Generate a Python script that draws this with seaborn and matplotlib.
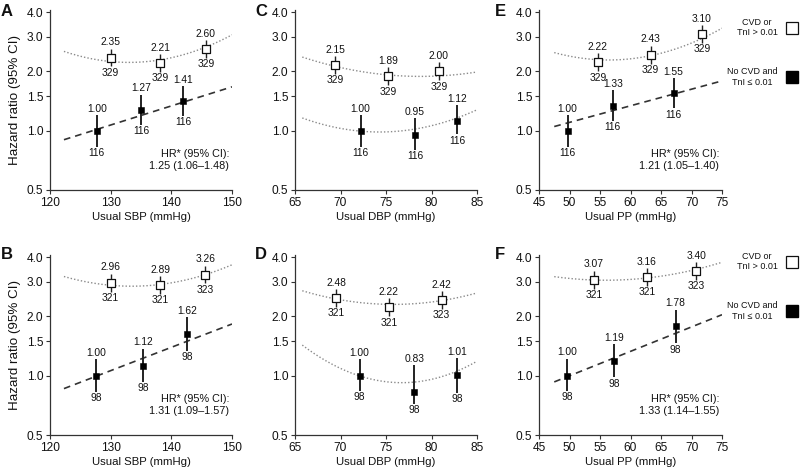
import numpy as np
import pandas as pd
import matplotlib
matplotlib.use('Agg')
import matplotlib.pyplot as plt
import seaborn as sns
from matplotlib.lines import Line2D

sns.set_theme(style='ticks')
plt.rcParams['font.family'] = ['Liberation Sans', 'DejaVu Sans']

# ---------------- data ----------------
panel_letters = ['A', 'C', 'E', 'B', 'D', 'F']
x_labels = ['Usual SBP (mmHg)', 'Usual DBP (mmHg)', 'Usual PP (mmHg)'] * 2
x_ticks = [[120, 130, 140, 150], [65, 70, 75, 80, 85], [45, 50, 55, 60, 65, 70, 75]] * 2
y_ticks = [0.5, 1.0, 1.5, 2.0, 3.0, 4.0]

# open squares: CVD or TnI > 0.01
open_x = [[130.0, 138.2, 145.7], [69.4, 75.2, 80.8], [54.65, 63.3, 71.7],
          [130.0, 138.2, 145.6], [69.5, 75.3, 81.1], [54.0, 62.7, 70.8]]
open_hr = [[2.35, 2.21, 2.60], [2.15, 1.89, 2.00], [2.22, 2.43, 3.10],
           [2.96, 2.89, 3.26], [2.48, 2.22, 2.42], [3.07, 3.16, 3.40]]
open_lo = [[2.12, 1.99, 2.34], [1.94, 1.70, 1.80], [2.00, 2.19, 2.79],
           [2.67, 2.60, 2.94], [2.23, 2.00, 2.18], [2.77, 2.85, 3.06]]
open_hi = [[2.61, 2.45, 2.89], [2.39, 2.10, 2.22], [2.47, 2.70, 3.44],
           [3.29, 3.21, 3.62], [2.75, 2.47, 2.69], [3.41, 3.51, 3.77]]
open_n = [[329, 329, 329], [329, 329, 329], [329, 329, 329],
          [321, 321, 323], [321, 321, 323], [321, 321, 323]]

# filled squares: No CVD and TnI <= 0.01
fill_x = [[127.7, 135.0, 142.0], [72.2, 78.2, 82.8], [49.7, 57.1, 67.05],
          [127.6, 135.4, 142.6], [72.1, 78.1, 82.8], [49.6, 57.3, 67.4]]
fill_hr = [[1.00, 1.27, 1.41], [1.00, 0.95, 1.12], [1.00, 1.33, 1.55],
           [1.00, 1.12, 1.62], [1.00, 0.83, 1.01], [1.00, 1.19, 1.78]]
fill_lo = [[0.83, 1.07, 1.19], [0.83, 0.80, 0.96], [0.83, 1.12, 1.30],
           [0.83, 0.93, 1.34], [0.84, 0.72, 0.82], [0.84, 0.98, 1.46]]
fill_hi = [[1.20, 1.52, 1.68], [1.20, 1.16, 1.35], [1.20, 1.60, 1.85],
           [1.21, 1.37, 1.98], [1.21, 1.13, 1.23], [1.22, 1.45, 2.16]]
fill_n = [[116, 116, 116], [116, 116, 116], [116, 116, 116],
          [98, 98, 98], [98, 98, 98], [98, 98, 98]]

# trend curves
open_curve_x = [[122.3, 130.0, 138.2, 145.7, 150.0], [65.8, 69.4, 75.2, 80.8, 85.0],
                [47.5, 54.65, 63.3, 71.7, 75.0], [122.3, 130.0, 138.2, 145.6, 150.0],
                [65.8, 69.5, 75.3, 81.1, 85.0], [47.5, 54.0, 62.7, 70.8, 75.0]]
open_curve_y = [[2.50, 2.31, 2.24, 2.65, 3.09], [2.36, 2.13, 1.92, 1.89, 1.99],
                [2.50, 2.28, 2.40, 2.98, 3.28], [3.15, 2.97, 2.84, 3.24, 3.69],
                [2.67, 2.50, 2.29, 2.38, 2.65], [3.18, 3.07, 3.12, 3.48, 3.76]]
fill_curve_x = [[122.3, 150.0], [65.8, 72.2, 75.6, 78.2, 82.8, 85.0], [47.5, 75.0],
                [122.3, 150.0], [65.8, 72.1, 77.0, 82.8, 85.0], [47.5, 75.0]]
fill_curve_y = [[0.90, 1.67], [1.16, 1.00, 0.98, 1.02, 1.17, 1.27], [1.05, 1.79],
                [0.86, 1.83], [1.41, 1.04, 0.90, 1.02, 1.22], [0.93, 2.04]]
fill_curve_dashed = [True, False, True, True, False, True]

hr_text = ['HR* (95% CI):\n1.25 (1.06\u20131.48)', None, 'HR* (95% CI):\n1.21 (1.05\u20131.40)',
           'HR* (95% CI):\n1.31 (1.09\u20131.57)', None, 'HR* (95% CI):\n1.33 (1.14\u20131.55)']

legend_labels = ['CVD or\nTnI > 0.01', 'No CVD and\nTnI \u2264 0.01']

# ---------------- layout ----------------
W, H = 800, 471
fig = plt.figure(figsize=(8.0, 4.71), dpi=100)
col_lr = [(50, 232), (295, 477), (539, 722)]
row_tb = [(10, 190), (255, 435)]
letter_pos = [(1, 4), (255, 4), (495, 4), (1, 247), (255, 247), (495, 247)]

for i in range(6):
    r, c = divmod(i, 3)
    l, rr = col_lr[c]
    t, b = row_tb[r]
    ax = fig.add_axes([l / W, 1 - b / H, (rr - l) / W, (b - t) / H])
    ax.set_yscale('log')
    xt = x_ticks[i]
    ax.set_xlim(xt[0], xt[-1])
    ax.set_ylim(0.5, 4.1)

    # curves
    xo = np.array(open_curve_x[i]); yo = np.log(open_curve_y[i])
    co = np.polyfit(xo, yo, 2)
    xs = np.linspace(xo.min(), xo.max(), 200)
    sns.lineplot(x=xs, y=np.exp(np.polyval(co, xs)), ax=ax, color='#8a8a8a',
                 linestyle=(0, (1, 1.5)), linewidth=1.0, estimator=None, zorder=1)
    xf = np.array(fill_curve_x[i]); yf = np.log(fill_curve_y[i])
    deg = min(2, len(xf) - 1)
    cf = np.polyfit(xf, yf, deg)
    xs2 = np.linspace(xf.min(), xf.max(), 200)
    if fill_curve_dashed[i]:
        sns.lineplot(x=xs2, y=np.exp(np.polyval(cf, xs2)), ax=ax, color='#333333',
                     linestyle=(0, (4, 3)), linewidth=1.2, estimator=None, zorder=1)
    else:
        sns.lineplot(x=xs2, y=np.exp(np.polyval(cf, xs2)), ax=ax, color='#8a8a8a',
                     linestyle=(0, (1, 1.5)), linewidth=1.0, estimator=None, zorder=1)

    # error bars
    ax.vlines(open_x[i], open_lo[i], open_hi[i], color='#222222', lw=1.0, zorder=3)
    ax.vlines(fill_x[i], fill_lo[i], fill_hi[i], color='#222222', lw=1.4, zorder=3)

    # points
    sns.scatterplot(x=open_x[i], y=open_hr[i], ax=ax, marker='s', s=30,
                    color='white', edgecolor='#111111', linewidth=0.9, zorder=5)
    sns.scatterplot(x=fill_x[i], y=fill_hr[i], ax=ax, marker='s', s=15,
                    color='black', edgecolor='black', linewidth=0.4, zorder=5)

    # labels
    for xv, hv, lo, hi, n in zip(open_x[i], open_hr[i], open_lo[i], open_hi[i], open_n[i]):
        ax.annotate(f'{hv:.2f}', (xv, hi), xytext=(0, 1.0), textcoords='offset points',
                    ha='center', va='bottom', fontsize=7.4, color='#111111')
        ax.annotate(f'{n}', (xv, lo), xytext=(0, -1.0), textcoords='offset points',
                    ha='center', va='top', fontsize=7.4, color='#111111')
    for xv, hv, lo, hi, n in zip(fill_x[i], fill_hr[i], fill_lo[i], fill_hi[i], fill_n[i]):
        ax.annotate(f'{hv:.2f}', (xv, hi), xytext=(0, 1.0), textcoords='offset points',
                    ha='center', va='bottom', fontsize=7.4, color='#111111')
        ax.annotate(f'{n}', (xv, lo), xytext=(0, -1.0), textcoords='offset points',
                    ha='center', va='top', fontsize=7.4, color='#111111')

    if hr_text[i]:
        ax.text(0.985, 0.165, hr_text[i], transform=ax.transAxes, ha='right', va='center',
                fontsize=7.8, multialignment='right', linespacing=1.25, color='#111111')

    # axes styling
    ax.set_yticks(y_ticks)
    ax.set_yticklabels([f'{v:.1f}' for v in y_ticks])
    ax.minorticks_off()
    ax.set_xticks(xt)
    ax.set_xticklabels([str(v) for v in xt])
    ax.tick_params(direction='out', length=3, width=0.8, labelsize=8.6, pad=2,
                   color='#333333', labelcolor='#111111')
    for s in ['top', 'right']:
        ax.spines[s].set_visible(False)
    for s in ['left', 'bottom']:
        ax.spines[s].set_linewidth(0.9)
        ax.spines[s].set_color('#333333')
    ax.set_xlabel(x_labels[i], fontsize=8.2, labelpad=2, color='#111111')
    if c == 0:
        ax.set_ylabel('Hazard ratio (95% CI)', fontsize=9.6, labelpad=4, color='#111111')
    else:
        ax.set_ylabel('')

    lx, ly = letter_pos[i]
    fig.text(lx / W, 1 - ly / H, panel_letters[i], ha='left', va='top',
             fontsize=12, fontweight='bold', color='#111111')

    if c == 2:
        handles = [Line2D([], [], linestyle='none', marker='s', markersize=8.5,
                          markerfacecolor='white', markeredgecolor='#111111', markeredgewidth=0.9),
                   Line2D([], [], linestyle='none', marker='s', markersize=8.5,
                          markerfacecolor='black', markeredgecolor='black')]
        top_px = 18 if r == 0 else 252
        leg = fig.legend(handles, legend_labels, loc='upper left',
                         bbox_to_anchor=(727 / W, 1 - top_px / H), frameon=False,
                         markerfirst=False, fontsize=6.5, labelspacing=3.3,
                         handletextpad=0.8, handlelength=1.6, borderpad=0, borderaxespad=0)
        for txt in leg.get_texts():
            txt.set_multialignment('center')
            txt.set_color('#111111')

fig.savefig('out.png', dpi=100)
